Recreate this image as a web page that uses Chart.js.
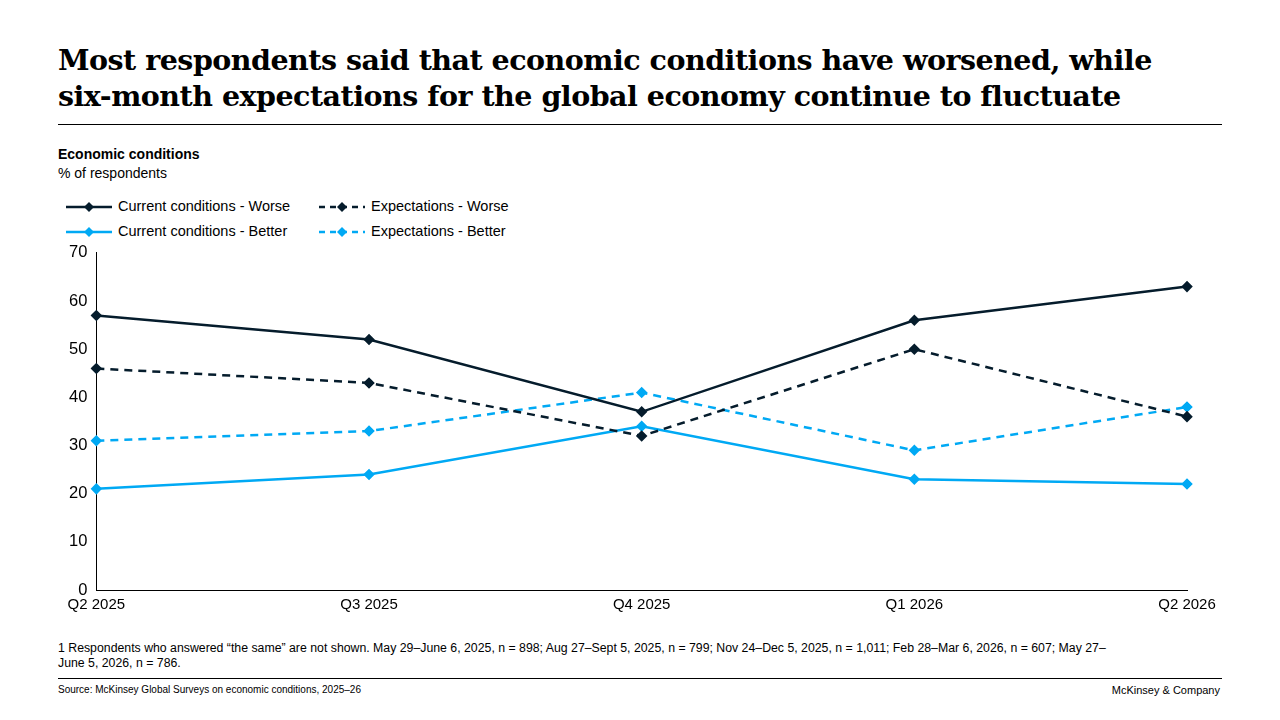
<!DOCTYPE html>
<html>
<head>
<meta charset="utf-8">
<script src="https://cdn.jsdelivr.net/npm/chart.js@4.4.0/dist/chart.umd.min.js"></script>
<style>
  body { margin: 0; width: 1280px; height: 720px; background: #fff; font-family: Arial, "Liberation Sans", sans-serif; position: relative; overflow: hidden; }
  .title { position: absolute; left: 58px; top: 42px; font-family: Georgia, "DejaVu Serif", serif; font-weight: bold; font-size: 28.5px; line-height: 36px; color: #000; letter-spacing: -0.5px; }
  .rule { position: absolute; left: 58px; width: 1164px; height: 1px; background: #000; }
  .sub { position: absolute; left: 58px; font-size: 14px; color: #000; }
  .legend { position: absolute; left: 66px; font-size: 14.5px; color: #000; }
  .legend .item { position: absolute; white-space: nowrap; }
  .legend canvas { vertical-align: middle; margin-right: 6px; }
  .foot { position: absolute; left: 58px; top: 641px; width: 1170px; font-size: 12.3px; line-height: 15px; color: #000; }
  .src { position: absolute; top: 684px; font-size: 10px; color: #000; }
  #wrap { position: absolute; left: 50px; top: 234px; width: 1180px; height: 386px; }
</style>
</head>
<body>
<div class="title">Most respondents said that economic conditions have worsened, while<br>six-month expectations for the global economy continue to fluctuate</div>
<div class="rule" style="top:124px"></div>
<div class="sub" style="top:146px;font-weight:bold">Economic conditions</div>
<div class="sub" style="top:165px">% of respondents</div>
<div class="legend" id="legend"></div>
<div id="wrap"><canvas id="chart"></canvas></div>
<div class="foot">1 Respondents who answered “the same” are not shown. May 29–June 6, 2025, n = 898; Aug 27–Sept 5, 2025, n = 799; Nov 24–Dec 5, 2025, n = 1,011; Feb 28–Mar 6, 2026, n = 607; May 27–<br>June 5, 2026, n = 786.</div>
<div class="rule" style="top:678px"></div>
<div class="src" style="left:58px">Source: McKinsey Global Surveys on economic conditions, 2025–26</div>
<div class="src" style="right:60px;font-size:11px">McKinsey &amp; Company</div>
<script>
const CATEGORIES = ['Q2 2025', 'Q3 2025', 'Q4 2025', 'Q1 2026', 'Q2 2026'];
const CURRENT_WORSE = [57, 52, 37, 56, 63];
const EXPECT_WORSE = [46, 43, 32, 50, 36];
const CURRENT_BETTER = [21, 24, 34, 23, 22];
const EXPECT_BETTER = [31, 33, 41, 29, 38];

const NAVY = '#051c2c';
const CYAN = '#00a9f4';

const SERIES = [
    { label: 'Current conditions - Worse', data: CURRENT_WORSE, color: NAVY, dash: [] },
    { label: 'Expectations - Worse', data: EXPECT_WORSE, color: NAVY, dash: [8, 6] },
    { label: 'Current conditions - Better', data: CURRENT_BETTER, color: CYAN, dash: [] },
    { label: 'Expectations - Better', data: EXPECT_BETTER, color: CYAN, dash: [8, 6] }
];

// custom legend, two rows
const legendPos = [[0, 198], [253, 198], [0, 223], [253, 223]];
const legend = document.getElementById('legend');
SERIES.forEach((s, i) => {
    const item = document.createElement('div');
    item.className = 'item';
    item.style.left = legendPos[i][0] + 'px';
    item.style.top = legendPos[i][1] + 'px';
    const c = document.createElement('canvas');
    c.width = 46; c.height = 12;
    const g = c.getContext('2d');
    g.strokeStyle = s.color; g.fillStyle = s.color; g.lineWidth = 2.5;
    g.setLineDash(s.dash.length ? [6, 5] : []);
    g.beginPath(); g.moveTo(0, 6); g.lineTo(46, 6); g.stroke();
    g.beginPath(); g.moveTo(23, 1); g.lineTo(28, 6); g.lineTo(23, 11); g.lineTo(18, 6); g.closePath(); g.fill();
    item.appendChild(c);
    item.appendChild(document.createTextNode(s.label));
    legend.appendChild(item);
});

new Chart(document.getElementById('chart'), {
    type: 'line',
    data: {
        labels: CATEGORIES,
        datasets: SERIES.map(s => ({
            label: s.label,
            data: s.data,
            borderColor: s.color,
            backgroundColor: s.color,
            borderDash: s.dash,
            borderWidth: 2.5,
            pointStyle: 'rectRot',
            pointRadius: 4,
            pointHoverRadius: 4,
            tension: 0
        }))
    },
    options: {
        responsive: true,
        maintainAspectRatio: false,
        animation: false,
        layout: { padding: { left: 10, right: 43, top: 6 } },
        plugins: { legend: { display: false }, tooltip: { enabled: false } },
        scales: {
            x: {
                offset: false,
                grid: { display: false, drawTicks: false },
                border: { color: '#000', width: 1 },
                ticks: { color: '#000', font: { size: 15, family: 'Arial' }, padding: 6, maxRotation: 0 }
            },
            y: {
                min: 0, max: 70,
                grid: { display: false, drawTicks: false },
                border: { color: '#000', width: 1 },
                ticks: { stepSize: 10, color: '#000', font: { size: 16.5, family: 'Arial' }, padding: 9 }
            }
        }
    }
});
</script>
</body>
</html>
